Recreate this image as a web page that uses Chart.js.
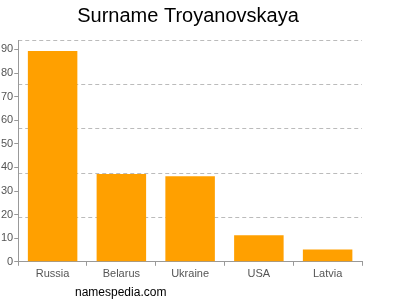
<!DOCTYPE html>
<html>
<head>
<meta charset="utf-8">
<script src="https://cdn.jsdelivr.net/npm/chart.js@4"></script>
<style>
  html, body { margin: 0; padding: 0; background: #fff; }
  #wrap { position: relative; width: 400px; height: 300px; }
  #src { position: absolute; left: 75px; top: 285px; font: 12px "Liberation Sans", Arial, sans-serif; color: #000; }
</style>
</head>
<body>
<div id="wrap">
  <canvas id="c" width="400" height="300"></canvas>
  <div id="src">namespedia.com</div>
</div>
<script>
const categories = ["Russia", "Belarus", "Ukraine", "USA", "Latvia"];
const values = [89.3, 37.2, 36.3, 11.2, 5.2];
const yTickLabels = [0, 10, 20, 30, 40, 50, 60, 70, 80, 90];
const yMax = 94;
const gridCount = 5;

Chart.defaults.font.family = '"Liberation Sans", Arial, sans-serif';

new Chart(document.getElementById('c'), {
  type: 'bar',
  data: {
    labels: categories,
    datasets: [{
      data: values,
      backgroundColor: '#ffa000',
      borderWidth: 0,
      barPercentage: 0.72,
      categoryPercentage: 1.0
    }]
  },
  options: {
    responsive: false,
    animation: false,
    layout: { padding: { left: 0, right: 24, top: 4, bottom: 17 } },
    plugins: {
      legend: { display: false },
      tooltip: { enabled: false },
      title: {
        display: true,
        text: 'Surname Troyanovskaya',
        color: '#000',
        font: { size: 20, weight: 'normal' },
        padding: { top: 0, bottom: 12 }
      }
    },
    scales: {
      x: {
        grid: { display: true, drawOnChartArea: false, tickLength: 4, color: '#999' },
        border: { color: '#999' },
        ticks: { color: '#555', font: { size: 11 }, padding: 2 }
      },
      y: {
        min: 0, max: yMax,
        afterBuildTicks: s => { s.ticks = yTickLabels.map(v => ({ value: v })); },
        grid: { display: true, drawOnChartArea: false, tickLength: 4, color: '#999' },
        border: { color: '#999' },
        ticks: { color: '#555', font: { size: 11 }, padding: 1 }
      },
      y2: {
        position: 'right',
        min: 0, max: yMax,
        afterBuildTicks: s => {
          const t = [];
          for (let i = 1; i <= gridCount; i++) t.push({ value: yMax * i / gridCount });
          s.ticks = t;
        },
        afterFit: s => { s.width = 14; },
        grid: { drawTicks: false, color: '#bbb' },
        border: { display: false, dash: [4, 3] },
        ticks: { display: false }
      }
    }
  }
});
</script>
</body>
</html>
